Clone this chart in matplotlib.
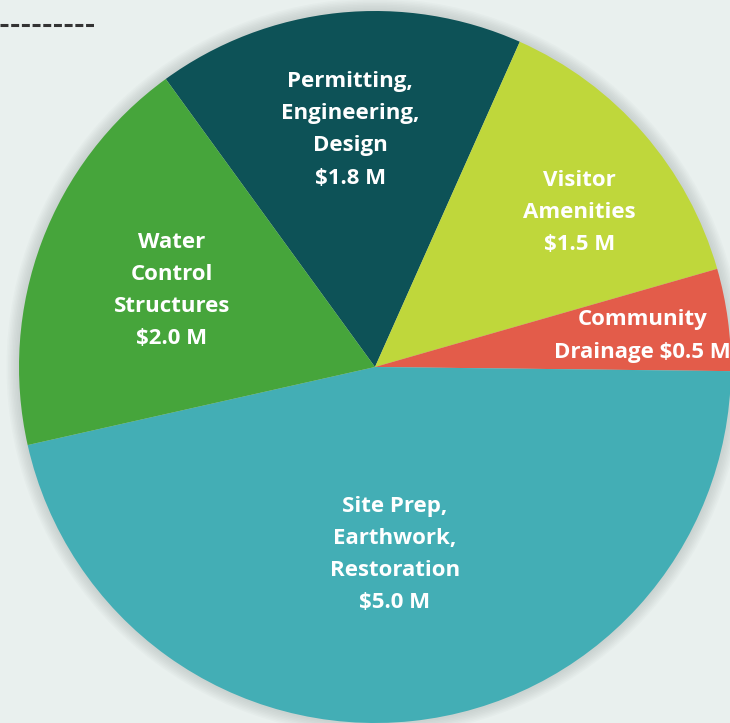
import numpy as np
import matplotlib.pyplot as plt
from matplotlib.patches import Circle

# 预算构成（单位：百万美元）
labels = ["Permitting,\nEngineering,\nDesign", "Visitor\nAmenities", "Community\nDrainage",
          "Site Prep,\nEarthwork,\nRestoration", "Water\nControl\nStructures"]
values = [1.8, 1.5, 0.5, 5.0, 2.0]
colors = ["#0d5257", "#bfd73b", "#e35c4a", "#43aeb5", "#46a53b"]
label_dist = [0.67, 0.72, 0.75, 0.53, 0.61]  # 每个标签离圆心的相对距离
label_turn = [0, -4, -1, 0, 0]  # 标签角度的微调（度）

W, H = 730, 723
fig = plt.figure(figsize=(W / 100, H / 100), dpi=100)
fig.patch.set_facecolor("#e9f0ee")
ax = fig.add_axes([0, 0, 1, 1])

cx, cy, R = 375, H - 367, 356

# 柔和的阴影
for k in range(8):
    ax.add_patch(Circle((cx, cy), R + 2 + k * 1.5, color="#9aa5a3", alpha=0.05, lw=0, zorder=0))

wedges, _ = ax.pie(values, colors=colors, startangle=126, counterclock=False,
                   center=(cx, cy), radius=R, frame=True,
                   wedgeprops=dict(linewidth=0))
ax.set_xlim(0, W)
ax.set_ylim(0, H)
ax.set_aspect("equal")
ax.axis("off")

for w, lab, v, d, t in zip(wedges, labels, values, label_dist, label_turn):
    ang = np.deg2rad((w.theta1 + w.theta2) / 2 + t)
    x = cx + d * R * np.cos(ang)
    y = cy + d * R * np.sin(ang)
    if lab.startswith("Community"):
        txt = "Community\nDrainage $%.1f M" % v
        x += 2
    else:
        txt = lab + "\n$%.1f M" % v
    ax.text(x, y, txt, ha="center", va="center", color="white", fontsize=16,
            fontweight="bold", family="Open Sans", linespacing=1.7)

# 左上角的虚线
ax.plot([0, 96], [H - 25, H - 25], color="#333333", lw=2.2, ls=(0, (2.6, 0.9)),
        solid_capstyle="butt", dash_capstyle="butt")

plt.savefig("out.png", dpi=100, facecolor=fig.get_facecolor())
